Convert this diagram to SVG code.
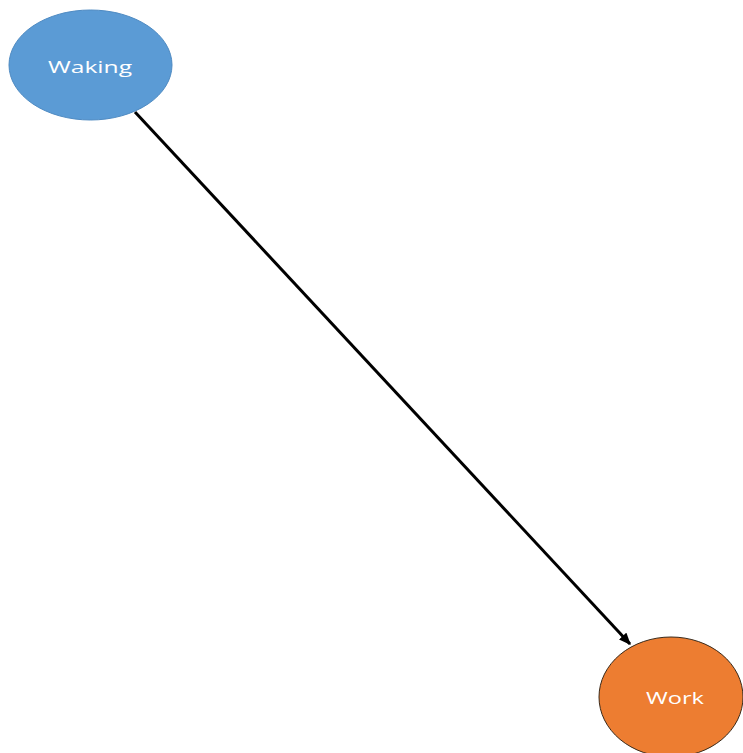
<svg xmlns="http://www.w3.org/2000/svg" width="743" height="753" viewBox="0 0 743 753">
  <style>
    .label { font-family: "Open Sans", "Liberation Sans", sans-serif; font-size: 17px; fill: #ffffff; text-anchor: middle; dominant-baseline: central; }
    .edge { stroke: #000000; stroke-width: 3; fill: none; }
  </style>
  <defs>
    <marker id="arrow" markerWidth="4" markerHeight="3.4" refX="3.6" refY="1.7" orient="auto" markerUnits="strokeWidth">
      <path d="M0,0 L4,1.7 L0,3.4 Z" fill="#000000"/>
    </marker>
  </defs>
  <rect width="743" height="753" fill="#ffffff"/>
  <g id="connectors">
    <line class="edge" x1="135" y1="112" x2="630" y2="644" marker-end="url(#arrow)"/>
  </g>
  <g id="node-waking">
    <ellipse cx="90.5" cy="65" rx="81.5" ry="55" fill="#5B9BD5" stroke="#4E8AC2" stroke-width="1"/>
    <text class="label" x="90" y="66" textLength="84" lengthAdjust="spacingAndGlyphs">Waking</text>
  </g>
  <g id="node-work">
    <ellipse cx="671" cy="697" rx="72" ry="60" fill="#ED7D31" stroke="#3a2a1a" stroke-width="1"/>
    <text class="label" x="675" y="697" textLength="58" lengthAdjust="spacingAndGlyphs">Work</text>
  </g>
</svg>
